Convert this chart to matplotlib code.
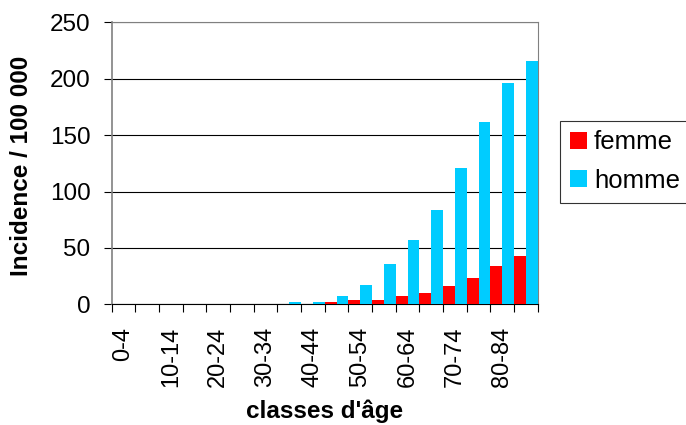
import matplotlib
matplotlib.use("Agg")
import matplotlib.pyplot as plt
import numpy as np

categories = ["0-4", "5-9", "10-14", "15-19", "20-24", "25-29", "30-34", "35-39",
              "40-44", "45-49", "50-54", "55-59", "60-64", "65-69", "70-74",
              "75-79", "80-84", "85+"]
femme = [0, 0, 0, 0, 0, 0, 0, 0, 0, 1.8, 3.6, 3.6, 7.1, 9.8, 16, 23.1, 33.8, 42.7]
homme = [0, 0, 0, 0, 0, 0, 0, 1.8, 1.8, 7.1, 16.9, 35.6, 57, 83.7, 121, 162, 195.8, 215.4]
y_ticks = [0, 50, 100, 150, 200, 250]

plt.rcParams['font.family'] = ['Liberation Sans', 'DejaVu Sans']

W, H = 686, 425
fig = plt.figure(figsize=(W / 100, H / 100), dpi=100)
ax = fig.add_axes([111.7 / W, 1 - 304.3 / H, (537.7 - 111.7) / W, (304.3 - 22.3) / H])

x = np.arange(len(categories))
bw = 0.5
ax.bar(x - bw / 2, femme, width=bw, color="#FF0000", label="femme", zorder=3)
ax.bar(x + bw / 2, homme, width=bw, color="#00CCFF", label="homme", zorder=3)

ax.set_xlim(-0.5, len(categories) - 0.5)
ax.set_ylim(0, 250)
ax.set_yticks(y_ticks)
ax.set_yticklabels([str(v) for v in y_ticks], fontsize=17.5)
ax.tick_params(axis='y', direction='out', length=5.8, width=0.8, color='black', pad=9.5)

# category boundaries as tick marks, labels at every other category
ax.set_xticks(np.arange(len(categories) + 1) - 0.5)
ax.set_xticklabels([])
ax.tick_params(axis='x', which='major', direction='out', length=5.8, width=0.8, color='black')
ax.set_xticks(x[::2], minor=True)
ax.set_xticklabels(categories[::2], minor=True, rotation=90, fontsize=17)
ax.tick_params(axis='x', which='minor', length=0, pad=16)

ax.set_axisbelow(True)
ax.yaxis.grid(True, color='black', linewidth=0.8)
for side in ['top', 'right', 'left']:
    ax.spines[side].set_color('#808080')
    ax.spines[side].set_linewidth(0.8)
ax.spines['left'].set_linewidth(1.2)
ax.spines['bottom'].set_color('black')
ax.spines['bottom'].set_linewidth(0.8)

fig.text(22 / W, 1 - 165.5 / H, "Incidence / 100 000", rotation=90, ha='center', va='center',
         fontsize=17.5, fontweight='bold')
fig.text(324.5 / W, 1 - 418 / H, "classes d'âge", ha='center', va='baseline',
         fontsize=17.5, fontweight='bold')

leg = fig.legend(loc='upper left', bbox_to_anchor=(560 / W, 1 - 120.7 / H), fontsize=18.5,
                 frameon=True, fancybox=False, borderaxespad=0, borderpad=0.38,
                 handlelength=0.66, handleheight=0.66, handletextpad=0.28, labelspacing=0.56)
leg.get_frame().set_edgecolor('black')
leg.get_frame().set_linewidth(0.8)

fig.savefig("out.png", dpi=100)
